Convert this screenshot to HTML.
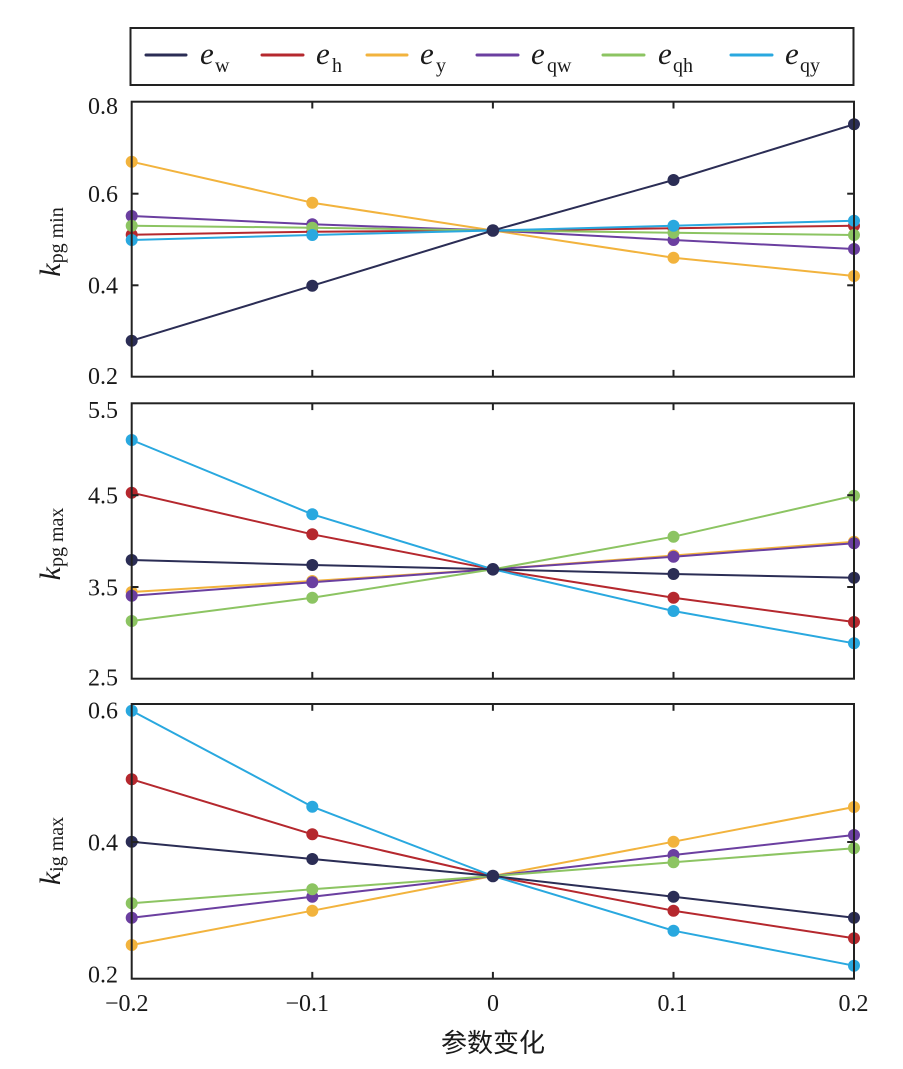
<!DOCTYPE html>
<html>
<head>
<meta charset="utf-8">
<style>
  html, body { margin: 0; padding: 0; background: #ffffff; }
  svg { display: block; }
  text { font-family: "Liberation Serif", "DejaVu Serif", serif; fill: #1a1a1a; }
  .cjk { font-family: "Liberation Sans", "Noto Sans CJK SC", sans-serif; }
</style>
</head>
<body>
<svg width="903" height="1069" viewBox="0 0 903 1069" xmlns="http://www.w3.org/2000/svg">
  <rect x="0" y="0" width="903" height="1069" fill="#ffffff"/>

  <!-- Legend -->
  <rect x="130.5" y="28" width="723" height="57" fill="none" stroke="#222" stroke-width="2"/>
  <g stroke-width="3" stroke-linecap="round">
    <line x1="146" y1="55" x2="186" y2="55" stroke="#2b2d55"/>
    <line x1="262" y1="55" x2="303" y2="55" stroke="#b5282e"/>
    <line x1="367" y1="55" x2="407" y2="55" stroke="#f2b33d"/>
    <line x1="477" y1="55" x2="518" y2="55" stroke="#6b3fa0"/>
    <line x1="603" y1="55" x2="644" y2="55" stroke="#8cc462"/>
    <line x1="731" y1="55" x2="772" y2="55" stroke="#29a8df"/>
  </g>
  <g>
    <text x="200" y="64" font-size="31" font-style="italic">e</text>
    <text x="215" y="72" font-size="20">w</text>
    <text x="316" y="64" font-size="31" font-style="italic">e</text>
    <text x="332" y="72" font-size="20">h</text>
    <text x="420" y="64" font-size="31" font-style="italic">e</text>
    <text x="436" y="72" font-size="20">y</text>
    <text x="531" y="64" font-size="31" font-style="italic">e</text>
    <text x="547" y="72" font-size="20">qw</text>
    <text x="658" y="64" font-size="31" font-style="italic">e</text>
    <text x="673" y="72" font-size="20">qh</text>
    <text x="785" y="64" font-size="31" font-style="italic">e</text>
    <text x="800" y="72" font-size="20">qy</text>
  </g>

  <!-- ============ Panel 1 ============ -->
  <g fill="none" stroke-width="2" stroke-linejoin="round">
    <polyline stroke="#b5282e" points="131.7,234.7 312.3,231.7 492.9,230.5 673.5,228.3 854,225.7"/>
    <polyline stroke="#f2b33d" points="131.7,161.7 312.3,202.7 492.9,230.5 673.5,257.7 854,276"/>
    <polyline stroke="#6b3fa0" points="131.7,216 312.3,224.3 492.9,230.5 673.5,240 854,249"/>
    <polyline stroke="#8cc462" points="131.7,225.7 312.3,227.7 492.9,230.5 673.5,232.7 854,235"/>
    <polyline stroke="#29a8df" points="131.7,240 312.3,235 492.9,230.5 673.5,225.7 854,220.7"/>
    <polyline stroke="#2b2d55" points="131.7,340.7 312.3,285.7 492.9,230.5 673.5,180 854,124.3"/>
  </g>
  <g>
    <g fill="#b5282e"><circle cx="131.7" cy="234.7" r="6"/><circle cx="312.3" cy="231.7" r="6"/><circle cx="673.5" cy="228.3" r="6"/><circle cx="854" cy="225.7" r="6"/></g>
    <g fill="#f2b33d"><circle cx="131.7" cy="161.7" r="6"/><circle cx="312.3" cy="202.7" r="6"/><circle cx="673.5" cy="257.7" r="6"/><circle cx="854" cy="276" r="6"/></g>
    <g fill="#6b3fa0"><circle cx="131.7" cy="216" r="6"/><circle cx="312.3" cy="224.3" r="6"/><circle cx="673.5" cy="240" r="6"/><circle cx="854" cy="249" r="6"/></g>
    <g fill="#8cc462"><circle cx="131.7" cy="225.7" r="6"/><circle cx="312.3" cy="227.7" r="6"/><circle cx="673.5" cy="232.7" r="6"/><circle cx="854" cy="235" r="6"/></g>
    <g fill="#29a8df"><circle cx="131.7" cy="240" r="6"/><circle cx="312.3" cy="235" r="6"/><circle cx="673.5" cy="225.7" r="6"/><circle cx="854" cy="220.7" r="6"/></g>
    <g fill="#2b2d55"><circle cx="131.7" cy="340.7" r="6"/><circle cx="312.3" cy="285.7" r="6"/><circle cx="492.9" cy="230.5" r="6.3"/><circle cx="673.5" cy="180" r="6"/><circle cx="854" cy="124.3" r="6"/></g>
  </g>
  <rect x="131.7" y="101.7" width="722.3" height="275" fill="none" stroke="#222" stroke-width="2"/>
  <g stroke="#222" stroke-width="2">
    <line x1="312.3" y1="101.7" x2="312.3" y2="108.5"/><line x1="492.9" y1="101.7" x2="492.9" y2="108.5"/><line x1="673.5" y1="101.7" x2="673.5" y2="108.5"/>
    <line x1="312.3" y1="376.7" x2="312.3" y2="369.9"/><line x1="492.9" y1="376.7" x2="492.9" y2="369.9"/><line x1="673.5" y1="376.7" x2="673.5" y2="369.9"/>
    <line x1="131.7" y1="193.7" x2="138.5" y2="193.7"/><line x1="131.7" y1="285.3" x2="138.5" y2="285.3"/>
    <line x1="854" y1="193.7" x2="847.2" y2="193.7"/><line x1="854" y1="285.3" x2="847.2" y2="285.3"/>
  </g>
  <g font-size="24" text-anchor="end">
    <text x="118" y="114">0.8</text>
    <text x="118" y="202">0.6</text>
    <text x="118" y="293.5">0.4</text>
    <text x="118" y="384">0.2</text>
  </g>
  <text transform="translate(60,242) rotate(-90)" text-anchor="middle"><tspan font-size="30" font-style="italic">k</tspan><tspan font-size="20" dy="3">pg min</tspan></text>

  <!-- ============ Panel 2 ============ -->
  <g fill="none" stroke-width="2" stroke-linejoin="round">
    <polyline stroke="#b5282e" points="131.7,492.7 312.3,534.3 492.9,569.3 673.5,597.7 854,622"/>
    <polyline stroke="#f2b33d" points="131.7,592 312.3,581 492.9,569.3 673.5,555.5 854,541.7"/>
    <polyline stroke="#6b3fa0" points="131.7,595.7 312.3,582.3 492.9,569.3 673.5,556.7 854,543.3"/>
    <polyline stroke="#8cc462" points="131.7,621 312.3,597.7 492.9,569.3 673.5,536.7 854,495.7"/>
    <polyline stroke="#29a8df" points="131.7,440 312.3,514.3 492.9,569.3 673.5,611 854,643.3"/>
    <polyline stroke="#2b2d55" points="131.7,560 312.3,565 492.9,569.3 673.5,574 854,577.7"/>
  </g>
  <g>
    <g fill="#b5282e"><circle cx="131.7" cy="492.7" r="6"/><circle cx="312.3" cy="534.3" r="6"/><circle cx="673.5" cy="597.7" r="6"/><circle cx="854" cy="622" r="6"/></g>
    <g fill="#f2b33d"><circle cx="131.7" cy="592" r="6"/><circle cx="312.3" cy="581" r="6"/><circle cx="673.5" cy="555.5" r="6"/><circle cx="854" cy="541.7" r="6"/></g>
    <g fill="#6b3fa0"><circle cx="131.7" cy="595.7" r="6"/><circle cx="312.3" cy="582.3" r="6"/><circle cx="673.5" cy="556.7" r="6"/><circle cx="854" cy="543.3" r="6"/></g>
    <g fill="#8cc462"><circle cx="131.7" cy="621" r="6"/><circle cx="312.3" cy="597.7" r="6"/><circle cx="673.5" cy="536.7" r="6"/><circle cx="854" cy="495.7" r="6"/></g>
    <g fill="#29a8df"><circle cx="131.7" cy="440" r="6"/><circle cx="312.3" cy="514.3" r="6"/><circle cx="673.5" cy="611" r="6"/><circle cx="854" cy="643.3" r="6"/></g>
    <g fill="#2b2d55"><circle cx="131.7" cy="560" r="6"/><circle cx="312.3" cy="565" r="6"/><circle cx="492.9" cy="569.3" r="6.3"/><circle cx="673.5" cy="574" r="6"/><circle cx="854" cy="577.7" r="6"/></g>
  </g>
  <rect x="131.7" y="403.3" width="722.3" height="275.4" fill="none" stroke="#222" stroke-width="2"/>
  <g stroke="#222" stroke-width="2">
    <line x1="312.3" y1="403.3" x2="312.3" y2="410.1"/><line x1="492.9" y1="403.3" x2="492.9" y2="410.1"/><line x1="673.5" y1="403.3" x2="673.5" y2="410.1"/>
    <line x1="312.3" y1="678.7" x2="312.3" y2="671.9"/><line x1="492.9" y1="678.7" x2="492.9" y2="671.9"/><line x1="673.5" y1="678.7" x2="673.5" y2="671.9"/>
    <line x1="131.7" y1="495.2" x2="138.5" y2="495.2"/><line x1="131.7" y1="587" x2="138.5" y2="587"/>
    <line x1="854" y1="495.2" x2="847.2" y2="495.2"/><line x1="854" y1="587" x2="847.2" y2="587"/>
  </g>
  <g font-size="24" text-anchor="end">
    <text x="118" y="418">5.5</text>
    <text x="118" y="503.5">4.5</text>
    <text x="118" y="595.5">3.5</text>
    <text x="118" y="685.5">2.5</text>
  </g>
  <text transform="translate(60,544) rotate(-90)" text-anchor="middle"><tspan font-size="30" font-style="italic">k</tspan><tspan font-size="20" dy="3">pg max</tspan></text>

  <!-- ============ Panel 3 ============ -->
  <g fill="none" stroke-width="2" stroke-linejoin="round">
    <polyline stroke="#b5282e" points="131.7,779.3 312.3,834.3 492.9,876 673.5,910.7 854,938.3"/>
    <polyline stroke="#f2b33d" points="131.7,945 312.3,910.7 492.9,876 673.5,841.7 854,807"/>
    <polyline stroke="#6b3fa0" points="131.7,917.7 312.3,896.7 492.9,876 673.5,855 854,835"/>
    <polyline stroke="#8cc462" points="131.7,903.3 312.3,889.3 492.9,876 673.5,862.3 854,848.3"/>
    <polyline stroke="#29a8df" points="131.7,710.7 312.3,806.7 492.9,876 673.5,930.7 854,965.7"/>
    <polyline stroke="#2b2d55" points="131.7,841.7 312.3,859 492.9,876 673.5,896.7 854,917.7"/>
  </g>
  <g>
    <g fill="#b5282e"><circle cx="131.7" cy="779.3" r="6"/><circle cx="312.3" cy="834.3" r="6"/><circle cx="673.5" cy="910.7" r="6"/><circle cx="854" cy="938.3" r="6"/></g>
    <g fill="#f2b33d"><circle cx="131.7" cy="945" r="6"/><circle cx="312.3" cy="910.7" r="6"/><circle cx="673.5" cy="841.7" r="6"/><circle cx="854" cy="807" r="6"/></g>
    <g fill="#6b3fa0"><circle cx="131.7" cy="917.7" r="6"/><circle cx="312.3" cy="896.7" r="6"/><circle cx="673.5" cy="855" r="6"/><circle cx="854" cy="835" r="6"/></g>
    <g fill="#8cc462"><circle cx="131.7" cy="903.3" r="6"/><circle cx="312.3" cy="889.3" r="6"/><circle cx="673.5" cy="862.3" r="6"/><circle cx="854" cy="848.3" r="6"/></g>
    <g fill="#29a8df"><circle cx="131.7" cy="710.7" r="6"/><circle cx="312.3" cy="806.7" r="6"/><circle cx="673.5" cy="930.7" r="6"/><circle cx="854" cy="965.7" r="6"/></g>
    <g fill="#2b2d55"><circle cx="131.7" cy="841.7" r="6"/><circle cx="312.3" cy="859" r="6"/><circle cx="492.9" cy="876" r="6.3"/><circle cx="673.5" cy="896.7" r="6"/><circle cx="854" cy="917.7" r="6"/></g>
  </g>
  <rect x="131.7" y="704" width="722.3" height="274.7" fill="none" stroke="#222" stroke-width="2"/>
  <g stroke="#222" stroke-width="2">
    <line x1="312.3" y1="704" x2="312.3" y2="710.8"/><line x1="492.9" y1="704" x2="492.9" y2="710.8"/><line x1="673.5" y1="704" x2="673.5" y2="710.8"/>
    <line x1="312.3" y1="978.7" x2="312.3" y2="971.9"/><line x1="492.9" y1="978.7" x2="492.9" y2="971.9"/><line x1="673.5" y1="978.7" x2="673.5" y2="971.9"/>
    <line x1="131.7" y1="842" x2="138.5" y2="842"/>
    <line x1="854" y1="842" x2="847.2" y2="842"/>
  </g>
  <g font-size="24" text-anchor="end">
    <text x="118" y="718.5">0.6</text>
    <text x="118" y="850.5">0.4</text>
    <text x="118" y="982.5">0.2</text>
  </g>
  <text transform="translate(60,851) rotate(-90)" text-anchor="middle"><tspan font-size="30" font-style="italic">k</tspan><tspan font-size="20" dy="3">ig max</tspan></text>

  <!-- X tick labels -->
  <g font-size="24">
    <text x="148.5" y="1011" text-anchor="end">−0.2</text>
    <text x="329" y="1011" text-anchor="end">−0.1</text>
    <text x="493" y="1011" text-anchor="middle">0</text>
    <text x="672.5" y="1011" text-anchor="middle">0.1</text>
    <text x="853.5" y="1011" text-anchor="middle">0.2</text>
  </g>

  <!-- X axis title -->
  <text class="cjk" x="493" y="1052" font-size="26" text-anchor="middle">参数变化</text>
</svg>
</body>
</html>
